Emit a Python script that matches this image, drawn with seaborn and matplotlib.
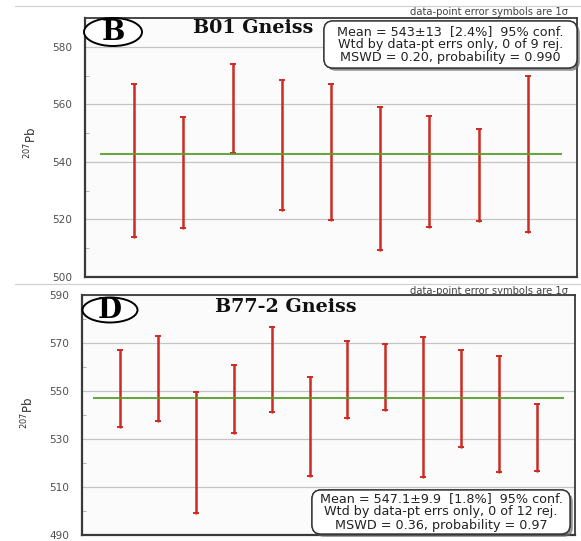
import numpy as np
import pandas as pd
import matplotlib
matplotlib.use("Agg")
import matplotlib.pyplot as plt
import matplotlib.patheffects as pe
from matplotlib.patches import Ellipse, FancyBboxPatch
from matplotlib.transforms import IdentityTransform
import seaborn as sns

# ---------------- data ----------------
b_low = [514.0, 516.9, 543.2, 523.3, 519.8, 509.4, 517.5, 519.6, 515.8]
b_high = [566.9, 555.5, 574.0, 568.6, 567.2, 558.9, 555.9, 551.6, 570.0]
b_mean = 542.7
b_ticks = [500, 520, 540, 560, 580]
b_text = "Mean = 543\u00b113  [2.4%]  95% conf.\nWtd by data-pt errs only, 0 of 9 rej.\nMSWD = 0.20, probability = 0.990"

d_low = [535.1, 537.5, 499.3, 532.4, 541.4, 514.7, 538.6, 542.1, 514.3, 526.8, 516.1, 516.7]
d_high = [567.1, 573.0, 549.7, 560.7, 576.5, 555.7, 570.8, 569.6, 572.4, 567.1, 564.6, 544.5]
d_mean = 546.9
d_ticks = [490, 510, 530, 550, 570, 590]
d_text = "Mean = 547.1\u00b19.9  [1.8%]  95% conf.\nWtd by data-pt errs only, 0 of 12 rej.\nMSWD = 0.36, probability = 0.97"

sns.set_theme(style="white")
plt.rcParams['font.family'] = ['DejaVu Sans']

RED = "#cc2b22"
GREEN = "#55a02a"
GRID = "#c4c4c4"
SPINE = "#3a3a3a"
SERIF = ["DejaVu Serif", "Liberation Serif"]

fig = plt.figure(figsize=(5.81, 5.41), dpi=100)
W, H = 581.0, 541.0


def px(x, y):
    return x / W, 1 - y / H


def panel(rect, low, high, mean, ticks, ylim, mean_span):
    ax = fig.add_axes(rect)
    ax.set_facecolor("#fbfbfb")
    n = len(low)
    idx = np.arange(1, n + 1)
    df = pd.DataFrame({
        "idx": np.concatenate([idx, idx]),
        "val": np.concatenate([low, high]),
    })
    sns.lineplot(data=df, x="idx", y="val", units="idx", estimator=None,
                 color=RED, lw=1.8, ax=ax, legend=False)
    sns.scatterplot(data=df, x="idx", y="val", marker="_", s=22,
                    color=RED, linewidth=1.4, ax=ax, legend=False, zorder=4)
    ax.hlines(mean, mean_span[0], mean_span[1], color=GREEN, lw=1.3, zorder=5)
    ax.set_xlim(0, n + 1)
    ax.set_ylim(*ylim)
    ax.set_yticks(ticks)
    ax.set_yticks([t + 10 for t in ticks[:-1]], minor=True)
    ax.set_xticks([])
    ax.grid(axis="y", which="major", color=GRID, lw=0.9)
    ax.set_axisbelow(True)
    ax.tick_params(axis="y", which="major", length=0, pad=9,
                   labelsize=7.6, labelcolor="#505050")
    ax.tick_params(axis="y", which="minor", length=3, width=0.6,
                   color="#aaaaaa", direction="in", left=True)
    for s in ["left", "bottom"]:
        ax.spines[s].set_color(SPINE)
        ax.spines[s].set_linewidth(1.6)
    for s in ["top", "right"]:
        ax.spines[s].set_color(SPINE)
        ax.spines[s].set_linewidth(1.3)
    ax.set_xlabel("")
    ax.set_ylabel("")
    return ax


# top panel: axes px 85..577, 18..277
l, b = px(85, 277)
r, t = px(577, 18)
ax1 = panel([l, b, r - l, t - b], b_low, b_high, b_mean, b_ticks, (500, 590), (0.3, 9.7))

# bottom panel: px 82..575, 295..535
l, b = px(82, 535)
r, t = px(575, 295)
ax2 = panel([l, b, r - l, t - b], d_low, d_high, d_mean, d_ticks, (490, 590), (0.3, 12.7))

# divider lines
for yy in [6, 284]:
    fig.add_artist(plt.Line2D([15 / W, 1.0], [1 - yy / H, 1 - yy / H],
                              color="#d0d0d0", lw=0.9, transform=fig.transFigure))

# y labels
for (xx, yy) in [(31, 143), (28, 413)]:
    fig.text(*px(xx, yy), r"$^{207}$Pb", rotation=90, ha="center", va="center",
             fontsize=8.5, color="#333333")

# 1 sigma notes
for yy in [12, 291]:
    fig.text(*px(568, yy), "data-point error symbols are 1\u03c3", ha="right",
             va="center", fontsize=7.2, color="#444444")

# titles
fig.text(*px(193, 28), "B01 Gneiss", ha="left", va="center", fontsize=13.8,
         fontweight="bold", family=SERIF, color="#111111")
fig.text(*px(215, 307), "B77-2 Gneiss", ha="left", va="center", fontsize=13.8,
         fontweight="bold", family=SERIF, color="#111111")

# circled letters
for (cx, cy, w, h, letter) in [(113, 32, 58, 28, "B"), (110, 310, 55, 25, "D")]:
    e = Ellipse(px(cx, cy), w / W, h / H, transform=fig.transFigure,
                facecolor="white", edgecolor="black", lw=1.4, zorder=10)
    fig.add_artist(e)
    fig.text(*px(cx, cy + 1), letter, ha="center", va="center", fontsize=20,
             fontweight="bold", family=SERIF, color="black", zorder=11)

# stats boxes (pixel geometry: x0, y0(top), x1, y1(bottom))
for (x0, y0, x1, y1, txt) in [(324, 21, 577, 68, b_text), (312, 490, 570, 534, d_text)]:
    box = FancyBboxPatch((x0, H - y1), x1 - x0, y1 - y0,
                         boxstyle="round,pad=0,rounding_size=9",
                         transform=IdentityTransform(), facecolor="white",
                         edgecolor="#333333", lw=1.0, zorder=12)
    box.set_path_effects([
        pe.withSimplePatchShadow(offset=(2, -2), shadow_rgbFace="#666666", alpha=0.7),
        pe.Normal()])
    fig.add_artist(box)
    fig.text(*px((x0 + x1) / 2, (y0 + y1) / 2), txt, ha="center", va="center",
             fontsize=9.2, color="#222222", linespacing=1.0, zorder=13)

fig.savefig("out.png", dpi=100, facecolor="white")
